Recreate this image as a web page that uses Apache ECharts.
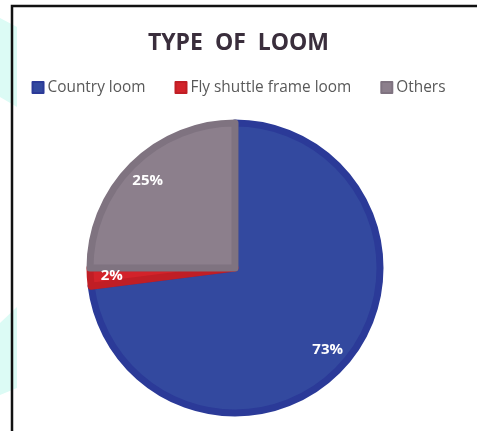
<!DOCTYPE html>
<html>
<head>
<meta charset="utf-8">
<script src="https://cdn.jsdelivr.net/npm/echarts@6/dist/echarts.min.js"></script>
<style>
  html, body { margin: 0; padding: 0; background: #ffffff; }
  #chart { width: 477px; height: 431px; }
</style>
</head>
<body>
<div id="chart"></div>
<script>
// Loom types and their shares (%)
const categories = ['Country loom', 'Fly shuttle frame loom', 'Others'];
const shares = [73, 2, 25];
const fillColors = ['#33499f', '#d2232a', '#8c7f8c'];
const edgeColors = ['#2b3a98', '#c01e25', '#7f7380'];

const chart = echarts.init(document.getElementById('chart'), null, { renderer: 'canvas' });

const pieData = categories.map((name, i) => ({
  name: name,
  value: shares[i],
  itemStyle: { color: fillColors[i], borderColor: edgeColors[i] }
}));

// Transparent ring used only to place the percentage labels further out
const labelData = categories.map((name, i) => ({ name: name, value: shares[i] }));

const FONT = '"Open Sans", "DejaVu Sans", sans-serif';

chart.setOption({
  animation: false,
  backgroundColor: '#ffffff',
  title: {
    text: 'TYPE  OF  LOOM',
    left: 'center',
    top: 27,
    textStyle: { fontFamily: FONT, fontSize: 23, fontWeight: 'bold', color: '#3a2e3c' }
  },
  legend: {
    data: categories,
    top: 75,
    left: 'center',
    itemWidth: 11,
    itemHeight: 11,
    itemGap: 29,
    icon: 'rect',
    textStyle: { fontFamily: FONT, fontSize: 15.4, color: '#595959', padding: [0, 0, 0, -1] }
  },
  graphic: [
    {
      type: 'polygon', z: -1, silent: true,
      shape: { points: [[0, 18], [17, 27], [17, 107], [0, 97]], smooth: 0 },
      style: { fill: '#dcfbf5' }
    },
    {
      type: 'polygon', z: -1, silent: true,
      shape: { points: [[0, 323], [17, 307], [17, 388], [0, 395]], smooth: 0 },
      style: { fill: '#dcfbf5' }
    },
    {
      type: 'rect', z: 100, silent: true,
      shape: { x: 12, y: 6, width: 500, height: 460 },
      style: { fill: 'none', stroke: '#111111', lineWidth: 2.5 }
    }
  ],
  series: [
    {
      type: 'pie',
      center: [235, 268],
      radius: [0, 145],
      startAngle: 90,
      clockwise: true,
      silent: true,
      itemStyle: { borderWidth: 7 },
      label: { show: false },
      labelLine: { show: false },
      data: pieData
    },
    {
      type: 'pie',
      center: [235, 268],
      radius: [100, 141],
      startAngle: 90,
      clockwise: true,
      silent: true,
      itemStyle: { color: 'rgba(0,0,0,0)', borderWidth: 0 },
      label: {
        show: true,
        position: 'inside',
        formatter: '{c}%',
        fontFamily: FONT,
        fontSize: 15,
        fontWeight: 'bold',
        color: '#ffffff'
      },
      labelLine: { show: false },
      data: labelData
    }
  ]
});
</script>
</body>
</html>
